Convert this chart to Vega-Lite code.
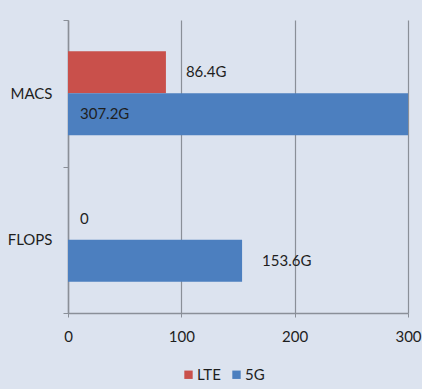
{
  "$schema": "https://vega.github.io/schema/vega-lite/v6.json",
  "width": 340,
  "height": 293,
  "autosize": {"type": "none"},
  "padding": {"left": 68, "top": 20, "right": 14, "bottom": 76},
  "background": "#dce3ef",
  "config": {
    "view": {"stroke": null},
    "font": "Lato",
    "axis": {"labelFont": "Lato", "labelFontSize": 15, "labelColor": "#1e1e1e", "domainColor": "#8a8f98", "tickColor": "#8a8f98", "gridColor": "#8a8f98"},
    "legend": {"labelFont": "Lato", "labelFontSize": 15, "labelColor": "#1e1e1e", "padding": 0}
  },
  "data": {
    "values": [
      {"metric": "MACS", "tech": "LTE", "value": 86.4, "label": "86.4G"},
      {"metric": "MACS", "tech": "5G", "value": 307.2, "label": "307.2G"},
      {"metric": "FLOPS", "tech": "LTE", "value": 0, "label": "0"},
      {"metric": "FLOPS", "tech": "5G", "value": 153.6, "label": "153.6G"}
    ]
  },
  "encoding": {
    "y": {
      "field": "metric",
      "type": "nominal",
      "sort": ["MACS", "FLOPS"],
      "scale": {"paddingInner": 0, "paddingOuter": 0},
      "axis": {"title": null, "tickBand": "extent", "tickSize": 5, "labelPadding": 11, "domainWidth": 1.5}
    },
    "yOffset": {
      "field": "tech",
      "type": "nominal",
      "sort": ["LTE", "5G"],
      "scale": {"paddingInner": 0, "paddingOuter": 0.74}
    }
  },
  "layer": [
    {
      "mark": {"type": "bar"},
      "encoding": {
        "x": {
          "field": "value",
          "type": "quantitative",
          "scale": {"domain": [0, 300], "clamp": true, "nice": false},
          "axis": {"title": null, "values": [0, 100, 200, 300], "grid": true, "gridWidth": 1.2, "tickSize": 4, "labelPadding": 12, "domainWidth": 1.5, "labelFlush": false}
        },
        "color": {
          "field": "tech",
          "type": "nominal",
          "scale": {"domain": ["LTE", "5G"], "range": ["#c9504b", "#4c7fbf"]},
          "legend": {"title": null, "orient": "none", "legendX": 113, "legendY": 347, "direction": "horizontal", "symbolType": "square", "symbolSize": 70, "symbolStrokeWidth": 0, "columnPadding": 8, "labelOffset": 1}
        }
      }
    },
    {
      "transform": [{"filter": "datum.value > 0 && datum.value <= 300"}],
      "mark": {"type": "text", "align": "left", "baseline": "middle", "dx": 20, "fontSize": 15, "color": "#1e1e1e"},
      "encoding": {
        "x": {"field": "value", "type": "quantitative"},
        "text": {"field": "label"}
      }
    },
    {
      "transform": [{"filter": "datum.value == 0 || datum.value > 300"}],
      "mark": {"type": "text", "align": "left", "baseline": "middle", "dx": 12, "fontSize": 15, "color": "#1e1e1e"},
      "encoding": {
        "x": {"datum": 0, "type": "quantitative"},
        "text": {"field": "label"}
      }
    }
  ]
}
